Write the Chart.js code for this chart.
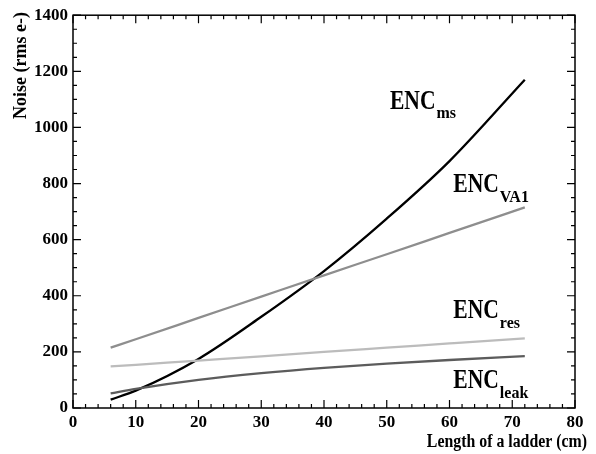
<!DOCTYPE html>
<html>
<head>
<meta charset="utf-8">
<script src="https://cdn.jsdelivr.net/npm/chart.js@4.4.1/dist/chart.umd.min.js"></script>
<style>
  html, body { margin: 0; padding: 0; background: #fff; }
  #wrap { width: 596px; height: 454px; position: relative; }
</style>
</head>
<body>
<div id="wrap"><canvas id="noiseChart"></canvas></div>
<script>
/* ---- data ---- */
const ladderLength = [6, 10, 20, 30, 40, 50, 60, 72];   // cm
const encMs   = [30, 62, 175, 325, 488, 675, 880, 1170];
const encVA1  = [215, 245, 321, 397, 473, 548, 624, 715];
const encRes  = [148, 154, 169, 184, 200, 215, 230, 248];
const encLeak = [52, 68, 100, 124, 143, 158, 171, 185];

const xTicks = [0, 10, 20, 30, 40, 50, 60, 70, 80];
const yTicks = [0, 200, 400, 600, 800, 1000, 1200, 1400];

// curve names, anchored in data units (cm, e-)
const curveLabels = [
  { main: 'ENC', sub: 'ms',   x: 50.5, y: 1067 },
  { main: 'ENC', sub: 'VA1',  x: 60.6, y: 769 },
  { main: 'ENC', sub: 'res',  x: 60.6, y: 319 },
  { main: 'ENC', sub: 'leak', x: 60.6, y: 71 }
];

const SERIF = '"Liberation Serif", "Times New Roman", serif';

function pts(ys) {
  return ladderLength.map((x, i) => ({ x: x, y: ys[i] }));
}

function lineSet(ys, color) {
  return {
    data: pts(ys),
    borderColor: color,
    borderWidth: 2.3,
    pointRadius: 0,
    fill: false,
    cubicInterpolationMode: 'monotone'
  };
}

// frame, inward ticks, curve names and axis titles
const paperPlugin = {
  id: 'paper',
  afterDatasetsDraw(chart) {
    const { ctx, chartArea: a, scales } = chart;
    const xs = scales.x, ys = scales.y;
    ctx.save();
    ctx.strokeStyle = '#000';
    ctx.lineWidth = 1.5;
    ctx.strokeRect(a.left, a.top, a.right - a.left, a.bottom - a.top);

    ctx.lineWidth = 1.2;
    ctx.beginPath();
    for (let v = 0; v <= 80; v += 2) {
      const px = xs.getPixelForValue(v);
      const len = v % 10 === 0 ? 8 : 4;
      ctx.moveTo(px, a.bottom); ctx.lineTo(px, a.bottom - len);
      ctx.moveTo(px, a.top); ctx.lineTo(px, a.top + len);
    }
    for (let v = 0; v <= 1400; v += 50) {
      const py = ys.getPixelForValue(v);
      const len = v % 200 === 0 ? 8 : 4;
      ctx.moveTo(a.left, py); ctx.lineTo(a.left + len, py);
      ctx.moveTo(a.right, py); ctx.lineTo(a.right - len, py);
    }
    ctx.stroke();

    // curve names
    ctx.fillStyle = '#000';
    ctx.textBaseline = 'alphabetic';
    ctx.textAlign = 'left';
    curveLabels.forEach(l => {
      const px = xs.getPixelForValue(l.x);
      const py = ys.getPixelForValue(l.y);
      ctx.save();
      ctx.translate(px, py);
      ctx.scale(0.8, 1);
      ctx.font = 'bold 27px ' + SERIF;
      ctx.fillText(l.main, 0, 0);
      const w = ctx.measureText(l.main).width * 0.8;
      ctx.restore();
      ctx.font = 'bold 16px ' + SERIF;
      ctx.fillText(l.sub, px + w + 1, py + 9.5);
    });

    // axis titles
    ctx.textAlign = 'right';
    ctx.save();
    ctx.translate(587, 447);
    ctx.scale(0.88, 1);
    ctx.font = 'bold 18px ' + SERIF;
    ctx.fillText('Length of a ladder (cm)', 0, 0);
    ctx.restore();
    ctx.save();
    ctx.translate(26, 12);
    ctx.rotate(-Math.PI / 2);
    ctx.font = 'bold 18px ' + SERIF;
    ctx.fillText('Noise (rms e-)', 0, 0);
    ctx.restore();
    ctx.restore();
  }
};

const tickFont = { family: SERIF, size: 17, weight: 'bold' };

new Chart(document.getElementById('noiseChart'), {
  type: 'line',
  data: {
    datasets: [
      lineSet(encVA1, '#8e8e8e'),
      lineSet(encRes, '#bcbcbc'),
      lineSet(encLeak, '#5c5c5c'),
      lineSet(encMs, '#000000')
    ]
  },
  options: {
    responsive: true,
    maintainAspectRatio: false,
    animation: false,
    layout: { padding: { left: 0, top: 13, right: 21, bottom: 0 } },
    plugins: { legend: { display: false }, tooltip: { enabled: false } },
    scales: {
      x: {
        type: 'linear',
        min: 0, max: 80,
        grid: { display: false, drawTicks: false },
        border: { display: false },
        afterBuildTicks: s => { s.ticks = xTicks.map(v => ({ value: v })); },
        afterFit: s => { s.height = 46; },
        ticks: { color: '#000', font: tickFont, padding: 4, maxRotation: 0, autoSkip: false,
                 callback: v => String(v) }
      },
      y: {
        min: 0, max: 1400,
        grid: { display: false, drawTicks: false },
        border: { display: false },
        afterBuildTicks: s => { s.ticks = yTicks.map(v => ({ value: v })); },
        afterFit: s => { s.width = 73; },
        ticks: { color: '#000', font: tickFont, padding: 5, autoSkip: false,
                 callback: v => String(v) }
      }
    }
  },
  plugins: [paperPlugin]
});
</script>
</body>
</html>
